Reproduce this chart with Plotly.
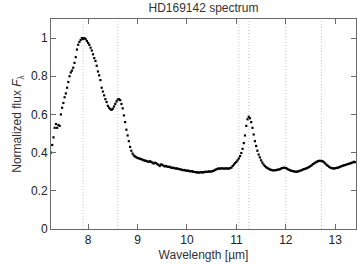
import plotly.graph_objects as go

wavelength = [
    7.250, 7.275, 7.300, 7.325, 7.350, 7.375, 7.400, 7.425,
    7.450, 7.475, 7.500, 7.525, 7.550, 7.575, 7.600, 7.625,
    7.650, 7.675, 7.700, 7.725, 7.750, 7.775, 7.800, 7.825,
    7.850, 7.875, 7.900, 7.925, 7.950, 7.975, 8.000, 8.025,
    8.050, 8.075, 8.100, 8.125, 8.150, 8.175, 8.200, 8.225,
    8.250, 8.275, 8.300, 8.325, 8.350, 8.375, 8.400, 8.425,
    8.450, 8.475, 8.500, 8.525, 8.550, 8.575, 8.600, 8.625,
    8.650, 8.675, 8.700, 8.725, 8.750, 8.775, 8.800, 8.825,
    8.850, 8.875, 8.900, 8.925, 8.950, 8.975, 9.000, 9.025,
    9.050, 9.075, 9.100, 9.125, 9.150, 9.175, 9.200, 9.225,
    9.250, 9.275, 9.300, 9.325, 9.350, 9.375, 9.400, 9.425,
    9.450, 9.475, 9.500, 9.525, 9.550, 9.575, 9.600, 9.625,
    9.650, 9.675, 9.700, 9.725, 9.750, 9.775, 9.800, 9.825,
    9.850, 9.875, 9.900, 9.925, 9.950, 9.975, 10.000, 10.025,
    10.050, 10.075, 10.100, 10.125, 10.150, 10.175, 10.200, 10.225,
    10.250, 10.275, 10.300, 10.325, 10.350, 10.375, 10.400, 10.425,
    10.450, 10.475, 10.500, 10.525, 10.550, 10.575, 10.600, 10.625,
    10.650, 10.675, 10.700, 10.725, 10.750, 10.775, 10.800, 10.825,
    10.850, 10.875, 10.900, 10.925, 10.950, 10.975, 11.000, 11.025,
    11.050, 11.075, 11.100, 11.125, 11.150, 11.175, 11.200, 11.225,
    11.250, 11.275, 11.300, 11.325, 11.350, 11.375, 11.400, 11.425,
    11.450, 11.475, 11.500, 11.525, 11.550, 11.575, 11.600, 11.625,
    11.650, 11.675, 11.700, 11.725, 11.750, 11.775, 11.800, 11.825,
    11.850, 11.875, 11.900, 11.925, 11.950, 11.975, 12.000, 12.025,
    12.050, 12.075, 12.100, 12.125, 12.150, 12.175, 12.200, 12.225,
    12.250, 12.275, 12.300, 12.325, 12.350, 12.375, 12.400, 12.425,
    12.450, 12.475, 12.500, 12.525, 12.550, 12.575, 12.600, 12.625,
    12.650, 12.675, 12.700, 12.725, 12.750, 12.775, 12.800, 12.825,
    12.850, 12.875, 12.900, 12.925, 12.950, 12.975, 13.000, 13.025,
    13.050, 13.075, 13.100, 13.125, 13.150, 13.175, 13.200, 13.225,
    13.250, 13.275, 13.300, 13.325, 13.350, 13.375, 13.400,
]

flux = [
    0.400, 0.440, 0.480, 0.530, 0.550, 0.530, 0.545, 0.540,
    0.600, 0.635, 0.660, 0.690, 0.710, 0.740, 0.770, 0.800,
    0.820, 0.830, 0.845, 0.870, 0.900, 0.940, 0.965, 0.980,
    0.990, 1.000, 0.995, 1.000, 0.995, 0.985, 0.975, 0.965,
    0.950, 0.935, 0.915, 0.895, 0.880, 0.855, 0.825, 0.805,
    0.780, 0.740, 0.720, 0.700, 0.680, 0.665, 0.645, 0.635,
    0.628, 0.624, 0.630, 0.642, 0.655, 0.668, 0.678, 0.680,
    0.675, 0.655, 0.632, 0.595, 0.560, 0.520, 0.490, 0.460,
    0.430, 0.410, 0.395, 0.385, 0.380, 0.376, 0.372, 0.370,
    0.368, 0.366, 0.363, 0.360, 0.358, 0.357, 0.354, 0.352,
    0.355, 0.352, 0.348, 0.343, 0.347, 0.345, 0.340, 0.336,
    0.330, 0.338, 0.336, 0.332, 0.328, 0.330, 0.327, 0.325,
    0.326, 0.322, 0.320, 0.321, 0.318, 0.317, 0.317, 0.315,
    0.313, 0.312, 0.310, 0.308, 0.309, 0.306, 0.305, 0.306,
    0.303, 0.302, 0.303, 0.300, 0.299, 0.298, 0.296, 0.297,
    0.295, 0.297, 0.298, 0.296, 0.298, 0.300, 0.299, 0.300,
    0.302, 0.300, 0.302, 0.304, 0.306, 0.310, 0.313, 0.316,
    0.317, 0.316, 0.318, 0.317, 0.316, 0.317, 0.318, 0.316,
    0.317, 0.319, 0.322, 0.330, 0.338, 0.345, 0.352, 0.360,
    0.370, 0.382, 0.398, 0.420, 0.450, 0.490, 0.540, 0.575,
    0.588, 0.580, 0.560, 0.530, 0.495, 0.460, 0.435, 0.410,
    0.390, 0.375, 0.360, 0.348, 0.338, 0.330, 0.324, 0.320,
    0.316, 0.312, 0.310, 0.308, 0.307, 0.308, 0.308, 0.310,
    0.311, 0.313, 0.316, 0.319, 0.320, 0.321, 0.319, 0.316,
    0.312, 0.309, 0.306, 0.304, 0.303, 0.301, 0.300, 0.300,
    0.302, 0.304, 0.306, 0.309, 0.312, 0.314, 0.316, 0.319,
    0.322, 0.325, 0.330, 0.334, 0.340, 0.344, 0.348, 0.352,
    0.355, 0.357, 0.357, 0.356, 0.354, 0.349, 0.343, 0.336,
    0.331, 0.326, 0.322, 0.319, 0.318, 0.317, 0.318, 0.320,
    0.321, 0.323, 0.326, 0.329, 0.331, 0.334, 0.335, 0.337,
    0.340, 0.342, 0.343, 0.346, 0.348, 0.352, 0.350,
]

feature_lines = [7.9, 8.6, 11.05, 11.25, 12.0, 12.72]
x_ticks = [8, 9, 10, 11, 12, 13]
y_ticks = [0, 0.2, 0.4, 0.6, 0.8, 1.0]
y_tick_labels = ["0", "0.2", "0.4", "0.6", "0.8", "1"]

FONT = "Liberation Sans, Arial, sans-serif"

fig = go.Figure()
fig.add_trace(go.Scatter(
    x=wavelength, y=flux, mode="markers",
    marker=dict(size=2.2, color="black", symbol="square", line=dict(width=0)),
    showlegend=False,
))

for xv in feature_lines:
    fig.add_shape(type="line", xref="x", yref="paper", x0=xv, x1=xv, y0=0, y1=1,
                  line=dict(color="#c4c4c4", width=1, dash="1px,2px"), layer="below")

axis_common = dict(
    showline=True, linecolor="#6a6a6a", linewidth=1, mirror="ticks",
    ticks="inside", ticklen=5, tickcolor="#6a6a6a", showgrid=False, zeroline=False,
    tickfont=dict(family=FONT, size=12, color="#222222"),
)

fig.update_layout(
    width=357, height=265, autosize=False,
    margin=dict(l=51, r=1, t=19, b=36),
    paper_bgcolor="white", plot_bgcolor="white",
    title=dict(text="HD169142 spectrum", x=0.5, xref="paper", y=0.985, yanchor="top",
               font=dict(family=FONT, size=12, color="#333333")),
    xaxis=dict(range=[7.25, 13.42], tickvals=x_ticks,
               title=dict(text="Wavelength [µm]", standoff=4,
                          font=dict(family=FONT, size=12, color="#333333")),
               **axis_common),
    yaxis=dict(range=[0, 1.1], tickvals=y_ticks, ticktext=y_tick_labels,
               title=dict(text="Normalized flux <i>F</i><sub>λ</sub>", standoff=6,
                          font=dict(family=FONT, size=12, color="#333333")),
               **axis_common),
)

fig.write_html(
    "out.html",
    config={"displayModeBar": False, "responsive": False, "staticPlot": True},
    post_script="document.body.style.margin='0';document.body.style.overflow='hidden';",
)
